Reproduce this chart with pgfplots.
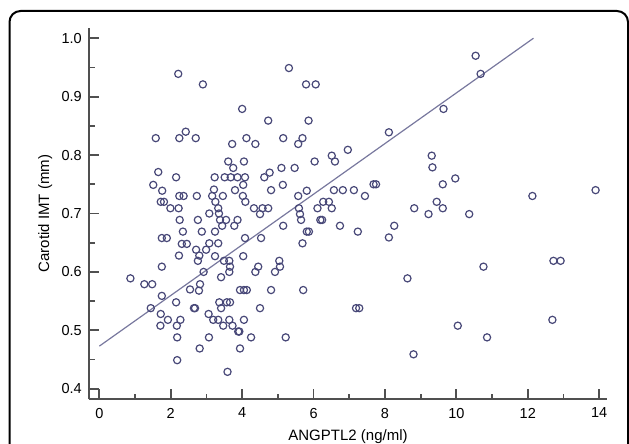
\documentclass[border=0pt]{standalone}
\usepackage{pgfplots}
\pgfplotsset{compat=1.18}
\usepackage{fontspec}
\setmainfont{Liberation Sans}
\definecolor{axgray}{RGB}{80,80,80}
\definecolor{markc}{RGB}{72,72,120}
\definecolor{linec}{RGB}{120,120,158}
\begin{document}
\begin{tikzpicture}
\useasboundingbox (0pt,0pt) rectangle (629pt,444pt);
\begin{scope}
\clip (0pt,0pt) rectangle (629pt,444pt);
\draw[line width=2pt, rounded corners=11pt] (9.5pt,433pt) rectangle (628pt,-40pt);
\end{scope}
\begin{axis}[
  at={(89pt,44.7pt)}, anchor=south west,
  scale only axis, width=518pt, height=371pt,
  xmin=-0.29, xmax=14.22, ymin=0.382, ymax=1.017,
  axis x line*=bottom, axis y line*=left,
  axis line style={axgray, line width=2pt},
  xtick={0,2,...,14}, ytick={0.4,0.5,0.6,0.7,0.8,0.9,1.0},
  minor x tick num=1, minor y tick num=1,
  tick align=inside,
  major tick length=10pt, minor tick length=5.5pt,
  every tick/.style={axgray, line width=1.8pt},
  /pgf/number format/assume math mode=true,
  yticklabel style={/pgf/number format/fixed, /pgf/number format/fixed zerofill, /pgf/number format/precision=1, anchor=east, inner sep=0pt, xshift=-7pt, font=\fontsize{14.5}{16}\selectfont},
  xticklabel style={anchor=north, inner sep=0pt, yshift=-8.5pt, font=\fontsize{14.5}{16}\selectfont},
  xlabel={ANGPTL2 (ng/ml)}, ylabel={Carotid IMT (mm)},
  xlabel style={at={(axis description cs:0.5,-0.1116)}, anchor=base, inner sep=0pt, font=\fontsize{15}{17}\selectfont},
  ylabel style={at={(axis description cs:-0.0772,0.501)}, anchor=base, rotate=0, inner sep=0pt, font=\fontsize{15}{17}\selectfont},
  clip=false,
]
\addplot[linec, line width=1.2pt] coordinates {(0,0.473) (12.16,1.0)};
\addplot[only marks, mark=o, mark size=3.6pt, mark options={markc, line width=1.2pt}] table {
x y
0.87 0.589
1.26 0.579
1.44 0.538
1.48 0.579
1.51 0.749
1.58 0.829
1.65 0.771
1.71 0.508
1.72 0.720
1.72 0.528
1.75 0.658
1.75 0.609
1.75 0.559
1.76 0.739
1.81 0.720
1.89 0.658
1.92 0.518
1.99 0.709
2.15 0.762
2.15 0.548
2.17 0.508
2.18 0.488
2.18 0.449
2.21 0.939
2.22 0.709
2.23 0.628
2.24 0.829
2.24 0.730
2.25 0.689
2.27 0.518
2.31 0.648
2.34 0.669
2.36 0.730
2.42 0.840
2.45 0.648
2.54 0.570
2.65 0.538
2.68 0.538
2.70 0.829
2.71 0.638
2.73 0.730
2.76 0.689
2.76 0.619
2.79 0.568
2.80 0.628
2.81 0.469
2.82 0.579
2.87 0.669
2.90 0.921
2.92 0.600
2.99 0.638
3.06 0.528
3.07 0.488
3.08 0.700
3.08 0.649
3.16 0.730
3.19 0.518
3.21 0.741
3.23 0.762
3.24 0.669
3.24 0.627
3.25 0.720
3.33 0.709
3.33 0.649
3.33 0.518
3.35 0.700
3.36 0.548
3.38 0.689
3.41 0.591
3.41 0.538
3.44 0.679
3.46 0.730
3.47 0.508
3.49 0.619
3.51 0.762
3.55 0.689
3.57 0.548
3.59 0.429
3.61 0.789
3.64 0.619
3.64 0.600
3.64 0.518
3.66 0.609
3.66 0.548
3.68 0.762
3.72 0.819
3.73 0.508
3.75 0.778
3.78 0.679
3.80 0.740
3.87 0.762
3.87 0.689
3.89 0.498
3.92 0.498
3.94 0.569
3.94 0.469
4.00 0.879
4.02 0.730
4.03 0.749
4.03 0.627
4.05 0.789
4.05 0.569
4.05 0.518
4.08 0.762
4.08 0.658
4.09 0.720
4.12 0.829
4.13 0.569
4.25 0.488
4.33 0.709
4.37 0.819
4.37 0.600
4.45 0.609
4.50 0.699
4.50 0.538
4.53 0.658
4.57 0.709
4.62 0.762
4.73 0.859
4.73 0.709
4.77 0.770
4.81 0.740
4.81 0.569
4.92 0.600
5.04 0.619
5.06 0.609
5.10 0.778
5.14 0.749
5.15 0.829
5.15 0.679
5.22 0.488
5.31 0.949
5.47 0.778
5.57 0.819
5.57 0.730
5.59 0.709
5.62 0.699
5.65 0.689
5.69 0.829
5.69 0.649
5.71 0.569
5.79 0.921
5.81 0.739
5.81 0.669
5.86 0.859
5.87 0.669
6.03 0.789
6.06 0.921
6.11 0.709
6.19 0.689
6.24 0.689
6.27 0.720
6.43 0.720
6.51 0.799
6.51 0.709
6.57 0.740
6.60 0.789
6.74 0.679
6.82 0.740
6.96 0.809
7.13 0.740
7.19 0.538
7.24 0.669
7.28 0.538
7.44 0.730
7.68 0.750
7.75 0.750
8.11 0.839
8.11 0.659
8.26 0.679
8.63 0.589
8.80 0.459
8.82 0.709
9.22 0.699
9.31 0.799
9.33 0.779
9.45 0.720
9.62 0.750
9.62 0.709
9.64 0.879
9.97 0.760
10.04 0.508
10.36 0.699
10.54 0.970
10.68 0.939
10.76 0.609
10.86 0.488
12.13 0.730
12.69 0.518
12.72 0.619
12.92 0.619
13.90 0.740
};
\end{axis}
\end{tikzpicture}
\end{document}
